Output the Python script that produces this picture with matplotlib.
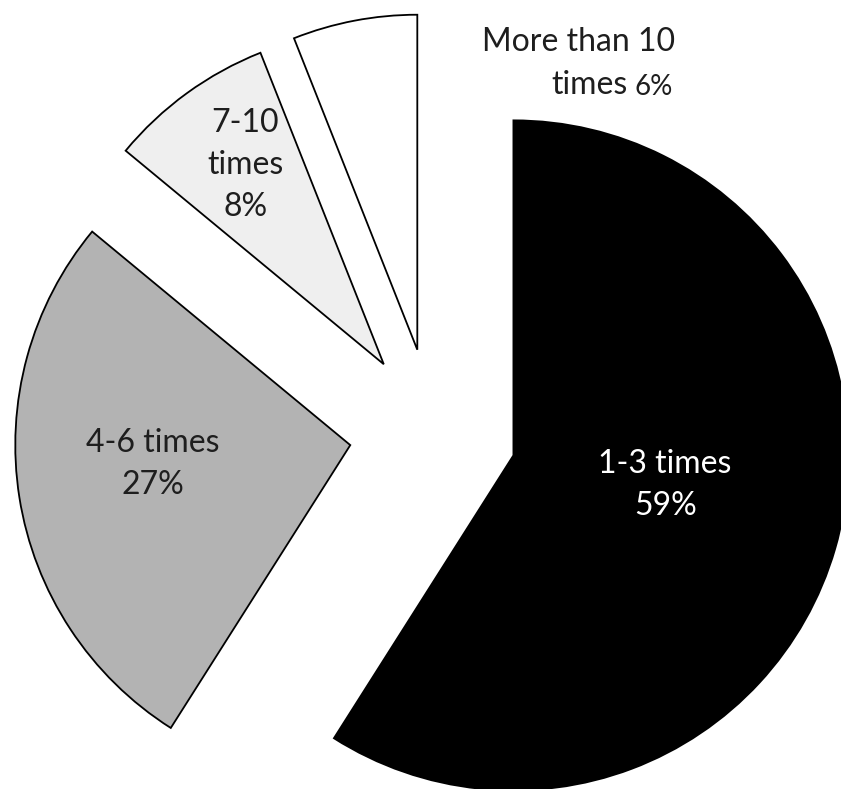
import matplotlib
matplotlib.use("Agg")
import matplotlib.pyplot as plt

labels = ["1-3 times", "4-6 times", "7-10 times", "More than 10 times"]
shares = [59, 27, 8, 6]
colors = ["#000000", "#b3b3b3", "#efefef", "#ffffff"]
explode = [0.25, 0.25, 0.25, 0.25]

plt.rcParams['font.family'] = ['Lato', 'DejaVu Sans']

fig = plt.figure(figsize=(8.41, 7.89), dpi=100)
ax = fig.add_axes([0, 0, 1, 1])

ax.pie(shares, colors=colors, explode=explode, startangle=90, counterclock=False,
       radius=1.0, wedgeprops=dict(edgecolor="black", linewidth=1.3))

# pixel -> data: centre at (433, 432), radius 335 px
ax.set_xlim(-433 / 335, (841 - 433) / 335)
ax.set_ylim(-(789 - 432) / 335, 432 / 335)
ax.set_aspect("auto")
ax.axis("off")

fs = 23
txt = "#1e1e1e"
ax.text(0.693, -0.158, f"{labels[0]}\n{shares[0]}%", color="white", fontsize=fs,
        ha="center", va="center", linespacing=1.5)
ax.text(-0.836, -0.096, f"{labels[1]}\n{shares[1]}%", color=txt, fontsize=fs,
        ha="center", va="center", linespacing=1.5)
ax.text(-0.561, 0.797, "7-10\ntimes\n" + f"{shares[2]}%", color=txt, fontsize=fs,
        ha="center", va="center", linespacing=1.5)
ax.text(0.436, 1.164, "More than 10", color=txt, fontsize=fs,
        ha="center", va="center")
ax.text(0.582, 1.036, "times", color=txt, fontsize=fs,
        ha="right", va="center")
ax.text(0.600, 1.031, f"{shares[3]}%", color=txt, fontsize=20,
        ha="left", va="center")

fig.savefig("out.png", dpi=100, facecolor="white")
